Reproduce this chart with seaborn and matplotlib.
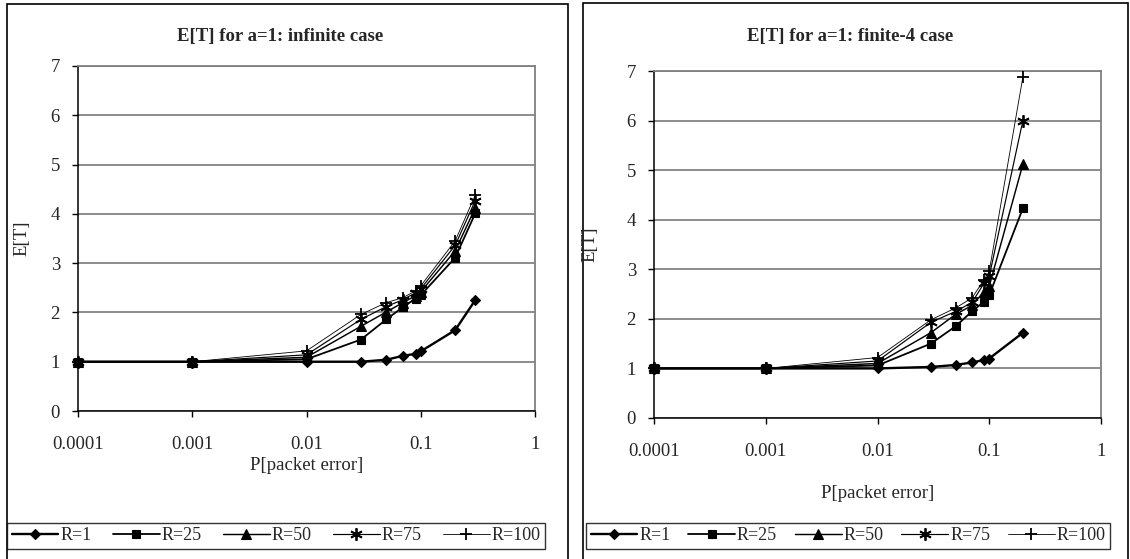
import matplotlib
matplotlib.use("Agg")
import matplotlib.pyplot as plt
import seaborn as sns
import pandas as pd
from matplotlib.patches import Rectangle
from matplotlib.ticker import FixedLocator, FixedFormatter, NullLocator

# ---- data -------------------------------------------------------------
series_labels = ["R=1", "R=25", "R=50", "R=75", "R=100"]

p_inf = [0.0001, 0.001, 0.01, 0.03, 0.05, 0.07, 0.09, 0.1, 0.2, 0.3]
inf_r1 = [1.0, 1.0, 1.0, 1.0, 1.04, 1.12, 1.16, 1.21, 1.64, 2.25]
inf_r25 = [1.0, 1.0, 1.05, 1.45, 1.86, 2.11, 2.28, 2.35, 3.11, 4.01]
inf_r50 = [1.0, 1.0, 1.09, 1.72, 2.01, 2.20, 2.34, 2.42, 3.25, 4.12]
inf_r75 = [1.0, 1.0, 1.14, 1.86, 2.12, 2.26, 2.40, 2.48, 3.36, 4.27]
inf_r100 = [1.0, 1.0, 1.22, 1.96, 2.20, 2.30, 2.44, 2.54, 3.45, 4.38]

p_fin = [0.0001, 0.001, 0.01, 0.03, 0.05, 0.07, 0.09, 0.1, 0.2]
fin_r1 = [1.0, 1.0, 1.0, 1.03, 1.07, 1.12, 1.17, 1.20, 1.72]
fin_r25 = [1.0, 1.0, 1.06, 1.50, 1.85, 2.15, 2.35, 2.48, 4.23]
fin_r50 = [1.0, 1.0, 1.10, 1.72, 2.09, 2.27, 2.55, 2.66, 5.12]
fin_r75 = [1.0, 1.0, 1.15, 1.93, 2.15, 2.33, 2.72, 2.86, 6.00]
fin_r100 = [1.0, 1.0, 1.22, 1.98, 2.22, 2.42, 2.79, 2.96, 6.88]

x_ticks = [0.0001, 0.001, 0.01, 0.1, 1]
x_tick_labels = ["0.0001", "0.001", "0.01", "0.1", "1"]
y_ticks = [0, 1, 2, 3, 4, 5, 6, 7]

# ---- style ------------------------------------------------------------
sns.set_style("white")
plt.rcParams["font.family"] = ["Liberation Serif", "DejaVu Serif"]

W, H = 1130, 559
fig = plt.figure(figsize=(W / 100, H / 100), dpi=100)


def fx(px):
    return px / W


def fy(py):
    return 1 - py / H


line_styles = [
    dict(marker="D", markersize=5.5, lw=1.7, mew=0.8),
    dict(marker="s", markersize=5.5, lw=1.3, mew=0.8),
    dict(marker="^", markersize=6.5, lw=1.05, mew=0.8),
    dict(marker=(6, 2, 0), markersize=9, lw=0.85, mew=1.3),
    dict(marker="+", markersize=9, lw=0.6, mew=1.3),
]


def draw_panel(rect, p, curves, title, title_x, xlabel_y, ylabel_x):
    ax = fig.add_axes(rect)
    handles = []
    for lab, vals, st in zip(series_labels, curves, line_styles):
        df = pd.DataFrame({"p": p, "ET": vals})
        sns.lineplot(data=df, x="p", y="ET", ax=ax, color="black",
                     linewidth=st["lw"], marker=st["marker"],
                     markersize=st["markersize"], markeredgewidth=st["mew"],
                     markerfacecolor="black", markeredgecolor="black",
                     label=lab, clip_on=False, zorder=3)
        handles.append(ax.get_lines()[-1])
    if ax.get_legend() is not None:
        ax.get_legend().remove()

    ax.set_xscale("log")
    ax.set_xlim(0.0001, 1)
    ax.set_ylim(0, 7)
    ax.xaxis.set_major_locator(FixedLocator(x_ticks))
    ax.xaxis.set_major_formatter(FixedFormatter(x_tick_labels))
    ax.xaxis.set_minor_locator(NullLocator())
    ax.yaxis.set_major_locator(FixedLocator(y_ticks))
    ax.set_xlabel("")
    ax.set_ylabel("")

    ax.grid(axis="y", color="#6e6e6e", lw=1.1)
    ax.grid(axis="x", visible=False)
    ax.set_axisbelow(True)

    for side in ["left", "bottom"]:
        ax.spines[side].set_color("black")
        ax.spines[side].set_linewidth(1.1)
    for side in ["top", "right"]:
        ax.spines[side].set_color("#808080")
        ax.spines[side].set_linewidth(1.3)

    ax.tick_params(axis="both", which="major", direction="out", length=4,
                   width=1, color="black", labelsize=13.5)
    ax.tick_params(axis="x", pad=14)
    ax.tick_params(axis="y", pad=9)
    ax.tick_params(left=True, bottom=True)

    fig.text(fx(title_x), fy(36), title, ha="center", va="center",
             fontsize=13.5, fontweight="bold")
    cx = rect[0] + rect[2] / 2
    fig.text(cx, fy(xlabel_y), "P[packet error]", ha="center", va="center",
             fontsize=13.5)
    cy = rect[1] + rect[3] / 2
    fig.text(fx(ylabel_x), cy, "E[T]", ha="center", va="center",
             rotation=90, fontsize=13.5)
    return ax, handles


# left chart: infinite case
ax1, h1 = draw_panel([fx(78), fy(411), fx(535) - fx(78), fy(66) - fy(411)],
                     p_inf, [inf_r1, inf_r25, inf_r50, inf_r75, inf_r100],
                     "E[T] for a=1: infinite case", 280, 466, 22)

# right chart: finite-4 case
ax2, h2 = draw_panel([fx(654), fy(418), fx(1101) - fx(654), fy(71) - fy(418)],
                     p_fin, [fin_r1, fin_r25, fin_r50, fin_r75, fin_r100],
                     "E[T] for a=1: finite-4 case", 850, 493, 590)


def add_legend(handles, x0, x1, y0, y1):
    leg = fig.legend(handles, series_labels, loc="center",
                     bbox_to_anchor=(fx(x0), fy(y1), fx(x1) - fx(x0), fy(y0) - fy(y1)),
                     mode="expand", ncol=5, frameon=True, fancybox=False,
                     shadow=False, edgecolor="black", fontsize=13,
                     handlelength=2.6, handletextpad=0.1, columnspacing=0.6,
                     borderpad=0.25, borderaxespad=0)
    leg.get_frame().set_linewidth(1.0)
    return leg


add_legend(h1, 7, 545, 521, 551)
add_legend(h2, 586, 1110, 521, 551)

# outer chart-area frames (cut off at the bottom edge)
for x0, x1, y0 in [(7, 568, 4), (583, 1128, 3)]:
    fig.add_artist(Rectangle((fx(x0), -0.05), fx(x1) - fx(x0), fy(y0) + 0.05,
                             transform=fig.transFigure, fill=False,
                             edgecolor="black", lw=1.2, clip_on=False))

fig.savefig("out.png", dpi=100)
